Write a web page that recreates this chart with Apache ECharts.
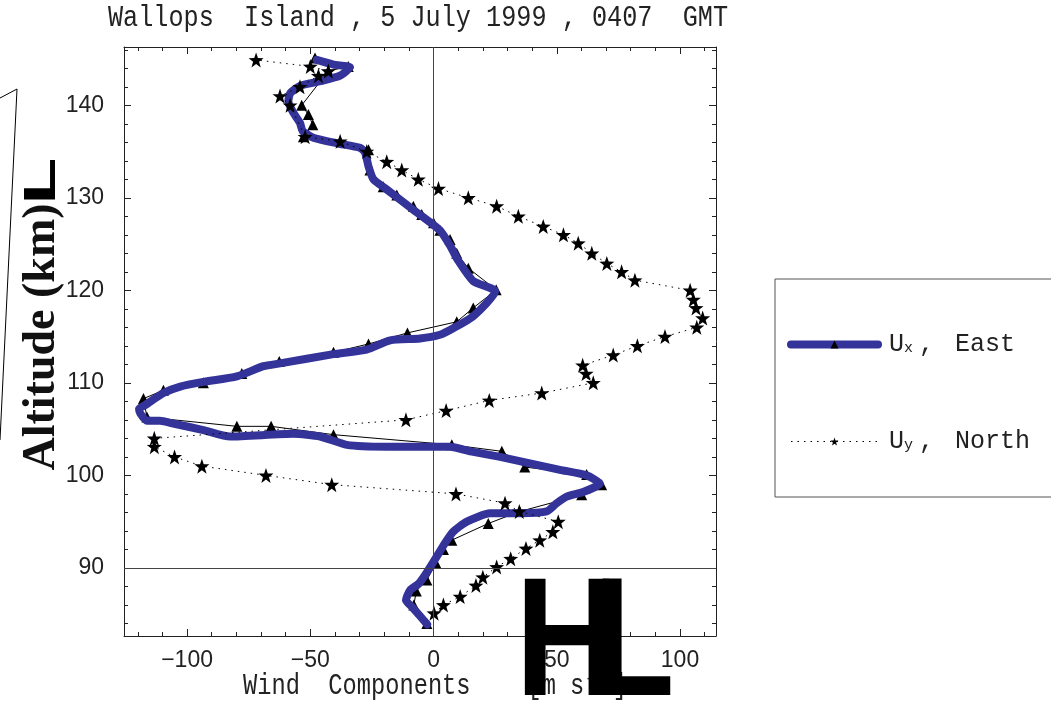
<!DOCTYPE html>
<html><head><meta charset="utf-8">
<script src="https://cdn.jsdelivr.net/npm/echarts@6/dist/echarts.min.js"></script>
<style>html,body{margin:0;padding:0;background:#fff}#c{width:1051px;height:701px}</style>
</head><body><div id="c"></div>
<script>
// ---------- texts ----------
const titleText = 'Wallops  Island , 5 July 1999 , 0407  GMT';
const xTitle = 'Wind  Components    [m s\u207B\u00B9]';
const yTitle = 'Altitude (km)';
const seriesNames = ['Ux, East', 'Uy, North'];

// ---------- ticks ----------
const xMajorTicks = [-100, -50, 0, 50, 100];
const xMinorTicks = [-120, -110, -90, -80, -70, -60, -40, -30, -20, -10, 10, 20, 30, 40, 60, 70, 80, 90, 110];
const yMajorTicks = [90, 100, 110, 120, 130, 140];
const yMinorTicks = [84, 86, 88, 92, 94, 96, 98, 102, 104, 106, 108, 112, 114, 116, 118, 122, 124, 126, 128, 132, 134, 136, 138, 142, 144, 146];

// ---------- Ux (East): smoothed curve ----------
const uxCurveAlt = [83.9, 84.8, 85.8, 86.5, 87.6, 88.3, 89.2, 90.8, 92.7, 93.9, 95.0, 95.9, 95.9, 96.1, 97.0, 97.7, 98.2, 99.1, 100.0, 100.6, 101.3, 102.0, 102.6, 103.1, 103.1, 103.1, 103.3, 104.2, 104.5, 104.2, 104.9, 105.6, 105.9, 105.9, 106.7, 107.2, 107.6, 108.9, 109.6, 110.1, 110.7, 111.8, 112.1, 113.1, 113.6, 114.6, 114.8, 115.2, 115.9, 117.2, 119.9, 121.0, 123.3, 124.7, 126.5, 128.7, 130.9, 132.0, 133.4, 134.9, 135.4, 135.9, 136.5, 137.2, 138.1, 139.2, 140.4, 141.3, 142.1, 142.6, 143.2, 144.1, 144.4, 144.9];
const uxCurveVal = [-2.6, -5.5, -8.8, -11.2, -9.5, -6.0, -3.5, 0.3, 4.7, 7.9, 13.5, 22.9, 35.1, 45.9, 50.0, 54.0, 60.7, 67.5, 62.1, 51.3, 39.1, 27.0, 15.0, 6.7, -5.5, -19.0, -35.2, -46.0, -56.9, -82.6, -93.4, -105.6, -111.0, -116.3, -119.0, -119.5, -117.0, -109.6, -102.8, -93.4, -79.8, -69.0, -62.3, -40.6, -27.1, -17.6, -5.5, 2.6, 8.0, 16.1, 25.0, 16.1, 9.8, 7.0, 2.5, -8.2, -19.0, -24.4, -26.4, -27.8, -29.8, -39.3, -48.8, -53.1, -54.2, -56.9, -58.9, -58.2, -54.2, -46.0, -37.9, -33.9, -40.6, -47.4];

// ---------- Ux (East): measured points ----------
const uxMarkAlt = [84.0, 86.0, 87.5, 88.7, 90.5, 92.0, 93.0, 94.8, 96.1, 97.9, 99.0, 100.1, 100.9, 102.6, 103.3, 104.4, 105.3, 105.3, 106.3, 108.3, 109.2, 110.0, 111.0, 112.3, 113.3, 114.2, 115.4, 116.6, 118.1, 120.05, 122.4, 124.0, 125.5, 126.5, 127.3, 128.2, 129.1, 130.3, 131.2, 133.0, 135.2, 136.1, 136.6, 137.9, 139.0, 140.0, 143.7, 144.2, 145.1];
const uxMarkVal = [-2.7, -8.0, -7.0, -2.7, 1.0, 4.0, 7.4, 22.2, 35.0, 60.1, 68.2, 62.1, 37.0, 27.7, 7.4, -40.6, -65.9, -79.8, -116.3, -117.7, -109.6, -93.4, -77.8, -62.6, -40.6, -26.4, -10.6, 9.4, 16.1, 25.4, 14.1, 9.4, 6.7, 2.6, 0.0, -4.8, -8.2, -14.9, -20.4, -25.8, -26.4, -37.9, -52.8, -49.0, -50.8, -53.5, -42.7, -34.6, -48.1];

// ---------- Uy (North) ----------
const uyAlt = [85.1, 86.0, 86.9, 88.1, 89.0, 90.1, 91.0, 92.1, 93.0, 93.9, 95.0, 96.1, 97.0, 98.0, 99.0, 100.0, 101.0, 102.0, 103.1, 104.0, 106.0, 107.0, 108.1, 108.9, 110.0, 111.0, 111.9, 113.0, 114.0, 115.0, 116.0, 117.0, 118.1, 119.0, 120.0, 121.1, 122.0, 122.9, 124.0, 125.1, 126.0, 126.9, 128.0, 129.1, 130.0, 131.0, 132.0, 133.0, 133.9, 135.0, 136.1, 136.6, 140.0, 141.0, 142.0, 143.2, 143.7, 144.2, 144.9];
const uyVal = [0.2, 4.0, 10.8, 17.2, 20.0, 25.6, 31.3, 37.5, 43.1, 48.4, 50.6, 34.8, 29.0, 9.1, -41.3, -68.0, -94.0, -105.1, -113.3, -113.3, -11.2, 5.1, 22.6, 43.9, 64.8, 61.9, 60.5, 72.9, 82.7, 93.9, 106.8, 109.2, 106.5, 105.4, 104.1, 81.7, 76.3, 70.3, 64.2, 58.7, 52.7, 44.5, 34.4, 25.6, 14.1, 2.0, -6.2, -12.9, -19.0, -27.1, -37.9, -52.1, -58.2, -62.3, -54.2, -46.7, -42.7, -50.0, -72.0];

const pairs = (vals, alts) => vals.map((v, i) => [v, alts[i]]);
const starPath = 'path://M0,-10L2.35,-3.24L9.51,-3.09L3.8,1.24L5.88,8.09L0,4L-5.88,8.09L-3.8,1.24L-9.51,-3.09L-2.35,-3.24Z';

const X_MIN = -125.6, X_MAX = 114.6, Y_MIN = 82.64, Y_MAX = 146.3;
const FRAME = '#222';
const BLUE = '#333399';
const labelFont = { fontFamily: 'Liberation Sans', fontSize: 23, color: '#222' };
const fmt = v => String(v).replace('-', '\u2212');

function xAx(pos, ticks, len, isMain, withLabels) {
  return {
    type: 'value', position: pos, min: X_MIN, max: X_MAX,
    axisLine: { show: isMain, onZero: false, lineStyle: { color: FRAME, width: 1 } },
    axisTick: { show: true, inside: true, length: len, customValues: ticks, lineStyle: { color: FRAME, width: 1 } },
    axisLabel: Object.assign({ show: withLabels, customValues: ticks, margin: 13, formatter: fmt }, labelFont),
    splitLine: { show: false }, minorTick: { show: false }
  };
}
function yAx(pos, ticks, len, isMain, withLabels) {
  return {
    type: 'value', position: pos, min: Y_MIN, max: Y_MAX,
    axisLine: { show: isMain, onZero: false, lineStyle: { color: FRAME, width: 1 } },
    axisTick: { show: true, inside: true, length: len, customValues: ticks, lineStyle: { color: FRAME, width: 1 } },
    axisLabel: Object.assign({ show: withLabels, customValues: ticks, margin: 20, formatter: fmt }, labelFont),
    splitLine: { show: false }, minorTick: { show: false }
  };
}

const monoFont = '"Liberation Mono", monospace';
const chart = echarts.init(document.getElementById('c'), null, { renderer: 'canvas' });
chart.setOption({
  animation: false,
  backgroundColor: '#fff',
  grid: { left: 124, right: 335, top: 47, bottom: 65, containLabel: false },
  xAxis: [
    xAx('bottom', xMajorTicks, 7, true, true),
    xAx('top', xMajorTicks, 7, true, false),
    xAx('bottom', xMinorTicks, 4, false, false),
    xAx('top', xMinorTicks, 4, false, false)
  ],
  yAxis: [
    yAx('left', yMajorTicks, 7, true, true),
    yAx('right', yMajorTicks, 7, true, false),
    yAx('left', yMinorTicks, 4, false, false),
    yAx('right', yMinorTicks, 4, false, false)
  ],
  legend: {
    orient: 'vertical', left: 775, top: 279,
    padding: [53, 60, 43, 12],
    itemGap: 72, itemWidth: 87, itemHeight: 10,
    borderColor: '#555', borderWidth: 1,
    lineStyle: { width: 'inherit' },
    data: [
      { name: seriesNames[0], itemStyle: { color: '#000', borderWidth: 0 }, lineStyle: { width: 8, color: BLUE } },
      { name: seriesNames[1], itemStyle: { color: '#000', borderWidth: 0 }, lineStyle: { width: 1, color: '#000' } }
    ],
    formatter: n => n === seriesNames[0] ? '{f|U}{s|x}{u|,}{e| East}' : '{f|U}{s|y}{u|,}{e| North}',
    textStyle: {
      fontFamily: 'Liberation Mono', fontSize: 25, color: '#222',
      rich: {
        f: { fontFamily: 'Liberation Mono', fontSize: 25, color: '#222', padding: [0, 0, 0, 6], lineHeight: 28 },
        u: { fontFamily: 'Liberation Mono', fontSize: 25, color: '#222', padding: [0, 0, 0, 6], lineHeight: 28 },
        e: { fontFamily: 'Liberation Mono', fontSize: 25, color: '#222', padding: [0, 0, 0, 6], lineHeight: 28 },
        s: { fontFamily: 'Liberation Mono', fontSize: 15, color: '#222', padding: [8, 0, 0, 0], lineHeight: 28 }
      }
    }
  },
  series: [
    {
      name: 'Ux measured', type: 'line', xAxisIndex: 0, yAxisIndex: 0,
      data: pairs(uxMarkVal, uxMarkAlt),
      symbol: 'triangle', symbolSize: 11, showSymbol: true,
      itemStyle: { color: '#000' }, lineStyle: { color: '#000', width: 1 },
      z: 2, silent: true,
      markLine: {
        silent: true, symbol: ['none', 'none'], label: { show: false },
        lineStyle: { color: '#444', width: 1, type: 'solid' },
        data: [{ xAxis: 0 }, { yAxis: 90 }]
      }
    },
    {
      name: seriesNames[0], type: 'line', xAxisIndex: 0, yAxisIndex: 0,
      data: pairs(uxCurveVal, uxCurveAlt),
      symbol: 'triangle', showSymbol: false, smooth: 0.2,
      itemStyle: { color: '#000' },
      lineStyle: { color: BLUE, width: 8, cap: 'round', join: 'round' },
      z: 3, silent: true
    },
    {
      name: seriesNames[1], type: 'line', xAxisIndex: 0, yAxisIndex: 0,
      data: pairs(uyVal, uyAlt),
      symbol: starPath, symbolSize: 15, showSymbol: true,
      itemStyle: { color: '#000' },
      lineStyle: { color: '#000', width: 1, type: [1.5, 5] },
      z: 4, silent: true
    }
  ],
  graphic: [
    { type: 'text', x: 108, y: 18.5, scaleX: 0.84,
      style: { text: titleText, font: '30px ' + monoFont, fill: '#222', align: 'left', verticalAlign: 'middle' } },
    { type: 'text', x: 243, y: 686.5, scaleX: 0.79,
      style: { text: xTitle, font: '30px ' + monoFont, fill: '#222', align: 'left', verticalAlign: 'middle' } },
    { type: 'text', x: 42, y: 337, rotation: Math.PI / 2,
      style: { text: yTitle, font: 'bold 46px "Liberation Serif"', fill: '#111', align: 'center', verticalAlign: 'middle' } },
    { type: 'text', x: 43, y: 181, rotation: Math.PI / 2, scaleX: 1.74,
      style: { text: 'L', font: 'bold 44px "Liberation Sans"', fill: '#000', align: 'center', verticalAlign: 'middle' } },
    { type: 'polyline', shape: { points: [[0, 98], [17, 89], [0, 440]] },
      style: { stroke: '#000', lineWidth: 1, fill: null } },
    { type: 'text', x: 567, y: 648, scaleX: 0.85, z: 100,
      style: { text: 'H', font: 'bold 169px "Liberation Sans"', fill: '#000', align: 'center', verticalAlign: 'middle' } },
    { type: 'text', x: 634, y: 648, scaleX: 0.78, z: 100,
      style: { text: 'L', font: 'bold 169px "Liberation Sans"', fill: '#000', align: 'center', verticalAlign: 'middle' } }
  ]
});
</script>
</body></html>
